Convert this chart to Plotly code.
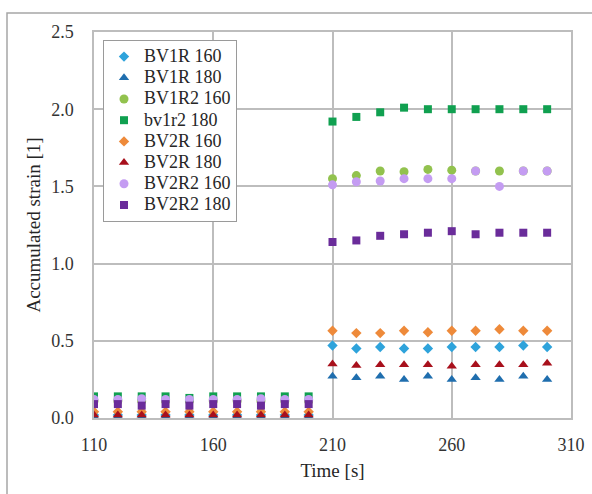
import plotly.graph_objects as go

time = [110, 120, 130, 140, 150, 160, 170, 180, 190, 200,
        210, 220, 230, 240, 250, 260, 270, 280, 290, 300]

bv1r_160 = [0.02, 0.02, 0.02, 0.02, 0.02, 0.02, 0.02, 0.02, 0.02, 0.02,
            0.47, 0.45, 0.46, 0.45, 0.45, 0.46, 0.46, 0.46, 0.47, 0.46]
bv1r_180 = [0.01, 0.01, 0.01, 0.01, 0.01, 0.01, 0.01, 0.01, 0.01, 0.01,
            0.27, 0.26, 0.27, 0.25, 0.27, 0.25, 0.26, 0.25, 0.27, 0.25]
bv1r2_160 = [0.11, 0.11, 0.11, 0.11, 0.11, 0.11, 0.11, 0.11, 0.11, 0.11,
             1.55, 1.57, 1.60, 1.595, 1.61, 1.605, 1.60, 1.60, 1.60, 1.60]
bv1r2_180 = [0.14, 0.14, 0.14, 0.14, 0.13, 0.14, 0.14, 0.14, 0.14, 0.14,
             1.92, 1.95, 1.98, 2.01, 2.00, 2.00, 2.00, 2.00, 2.00, 2.00]
bv2r_160 = [0.04, 0.04, 0.04, 0.04, 0.04, 0.04, 0.04, 0.04, 0.04, 0.04,
            0.565, 0.55, 0.55, 0.565, 0.555, 0.565, 0.565, 0.575, 0.565, 0.565]
bv2r_180 = [0.02, 0.02, 0.02, 0.02, 0.02, 0.02, 0.02, 0.02, 0.02, 0.02,
            0.35, 0.34, 0.345, 0.345, 0.345, 0.335, 0.345, 0.345, 0.345, 0.355]
bv2r2_160 = [0.12, 0.12, 0.125, 0.12, 0.12, 0.12, 0.12, 0.125, 0.12, 0.12,
             1.51, 1.53, 1.535, 1.55, 1.55, 1.55, 1.60, 1.50, 1.60, 1.60]
bv2r2_180 = [0.09, 0.09, 0.08, 0.09, 0.08, 0.09, 0.09, 0.08, 0.09, 0.09,
             1.14, 1.15, 1.18, 1.19, 1.20, 1.21, 1.19, 1.20, 1.20, 1.20]

series_names = ["BV1R 160", "BV1R 180", "BV1R2 160", "bv1r2 180",
                "BV2R 160", "BV2R 180", "BV2R2 160", "BV2R2 180"]
series_values = [bv1r_160, bv1r_180, bv1r2_160, bv1r2_180,
                 bv2r_160, bv2r_180, bv2r2_160, bv2r2_180]
symbols = ["diamond", "triangle-up", "circle", "square",
           "diamond", "triangle-up", "circle", "square"]
colors = ["#2EA3DB", "#1F6EAE", "#92C24E", "#10A050",
          "#EE8A3A", "#A8101C", "#C49CF2", "#6A2C9A"]
sizes = [8, 9, 9, 8, 8, 9, 9, 8]

x_ticks = [110, 160, 210, 260, 310]
y_ticks = [0.0, 0.5, 1.0, 1.5, 2.0, 2.5]

fig = go.Figure()
for name, vals, sym, col, sz in zip(series_names, series_values, symbols, colors, sizes):
    fig.add_trace(go.Scatter(
        x=time, y=vals, mode="markers",
        name=f"<span style='font-size:18px'>{name}</span>",
        marker=dict(symbol=sym, color=col, size=sz, line=dict(width=0)),
    ))

serif = "Liberation Serif"
grid = "#BDBDBD"
txt = "#333333"

fig.update_layout(
    width=592, height=494,
    margin=dict(l=94, r=21, t=32, b=76, autoexpand=False),
    paper_bgcolor="white", plot_bgcolor="white",
    font=dict(family=serif, size=18, color=txt),
    showlegend=True,
    legend=dict(
        x=(103 - 94) / 477, y=(418 - 40) / 386, xanchor="left", yanchor="top",
        bgcolor="white", bordercolor="#9A9A9A", borderwidth=1,
        font=dict(family=serif, size=14, color="#262626"),
        itemwidth=30, tracegroupgap=0,
    ),
    xaxis=dict(
        range=[110, 310], tickvals=x_ticks, ticktext=[str(v) for v in x_ticks],
        showgrid=True, gridcolor=grid, gridwidth=1.5,
        showline=True, linecolor=grid, linewidth=1.5, mirror=True,
        zeroline=False, ticks="", ticklabelstandoff=10, automargin=False,
        title=dict(text="Time [s]", font=dict(family=serif, size=19, color="#262626"), standoff=9),
        tickfont=dict(family=serif, size=18, color=txt),
    ),
    yaxis=dict(
        range=[0, 2.5], tickvals=y_ticks, ticktext=[f"{v:.1f}" for v in y_ticks],
        showgrid=True, gridcolor=grid, gridwidth=1.5,
        showline=True, linecolor=grid, linewidth=1.5, mirror=True,
        zeroline=False, ticks="", ticklabelstandoff=15, automargin=False,
        title=dict(text="Accumulated strain [1]", font=dict(family=serif, size=19, color="#262626"), standoff=6),
        tickfont=dict(family=serif, size=18, color=txt),
    ),
    shapes=[dict(
        type="rect", xref="paper", yref="paper",
        x0=(7 - 94) / 477, x1=(600 - 94) / 477,
        y0=(418 - 500) / 386, y1=(418 - 13) / 386,
        line=dict(color="#A6A6A6", width=1.5), fillcolor="rgba(0,0,0,0)",
        layer="below",
    )],
)

fig.write_html("out.html")
